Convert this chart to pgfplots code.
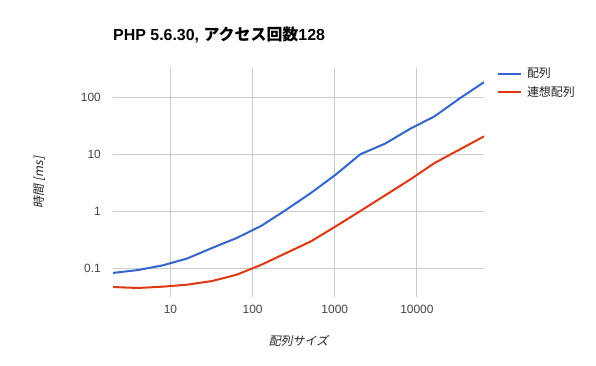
\documentclass[border=0pt]{standalone}
\usepackage{fontspec}
\usepackage{pgfplots}
\pgfplotsset{compat=1.18}
\setmainfont{Liberation Sans}
\newfontfamily\cjk{Noto Sans CJK JP}
\newfontfamily\cjkit{Noto Sans CJK JP}[FakeSlant=0.2]
\definecolor{gblue}{HTML}{3366CC}
\definecolor{gred}{HTML}{DC3912}
\definecolor{gridc}{HTML}{CCCCCC}
\definecolor{tickc}{HTML}{444444}
\definecolor{titc}{HTML}{222222}
\begin{document}
\begin{tikzpicture}
\path[use as bounding box] (0,0) rectangle (596bp,366bp);
\begin{axis}[
  at={(113bp,69bp)}, anchor=south west,
  scale only axis, width=371bp, height=229bp,
  xmode=log, ymode=log,
  xmin=2, xmax=65536, ymin=0.031, ymax=323,
  xtick={10,100,1000,10000}, xticklabels={10,100,1000,10000},
  ytick={0.1,1,10,100}, yticklabels={0.1,1,10,100},
  minor tick num=0,
  grid=major, major grid style={gridc, line width=1bp},
  axis line style={draw=none}, tick style={draw=none},
  ticklabel style={font=\fontsize{12}{14}\selectfont, text=tickc},
  xticklabel style={anchor=north, inner sep=0pt},
  yticklabel style={anchor=east, inner sep=0pt},
  xticklabel shift=8bp, yticklabel shift=12bp,
  title={\textbf{PHP 5.6.30, }{\cjk\bfseries アクセス回数}\textbf{128}},
  title style={at={(axis description cs:0,1)}, anchor=base west, yshift=21.3bp, inner sep=0pt, font=\fontsize{16}{19}\selectfont},
  xlabel={\cjkit 配列サイズ},
  xlabel style={at={(axis description cs:0.5,-0.192)}, anchor=center, font=\fontsize{12}{14}\selectfont, text=titc},
  ylabel={\cjkit 時間 [ms]},
  ylabel style={at={(axis description cs:-0.197,0.5)}, anchor=center, font=\fontsize{12}{14}\selectfont, text=titc},
  legend style={draw=none, fill=none, at={(axis description cs:1,1)}, anchor=north west,
    xshift=13bp, yshift=0bp, inner sep=0pt, outer sep=0pt, row sep=7bp, column sep=5bp,
    font=\fontsize{12}{14}\selectfont, text=titc, nodes={inner sep=0pt}},
  legend cell align=left,
  legend image code/.code={\draw[#1] (0bp,0bp) -- (23bp,0bp);},
]
\addplot[gblue, line width=2bp] coordinates {
(2,0.082) (4,0.092) (8,0.111) (16,0.147) (32,0.224) (64,0.336) (128,0.55) (256,1.05)
(512,2.07) (1024,4.33) (2048,9.9) (4096,15.2) (8192,27.5) (16384,45.8) (32768,93.5) (65536,182)
};
\addlegendentry{\cjk 配列}
\addplot[gred, line width=2bp] coordinates {
(2,0.0464) (4,0.0446) (8,0.047) (16,0.051) (32,0.059) (64,0.0763) (128,0.114) (256,0.183)
(512,0.293) (1024,0.537) (2048,1.0) (4096,1.88) (8192,3.54) (16384,6.95) (32768,11.9) (65536,20.4)
};
\addlegendentry{\cjk 連想配列}
\end{axis}
\end{tikzpicture}
\end{document}
